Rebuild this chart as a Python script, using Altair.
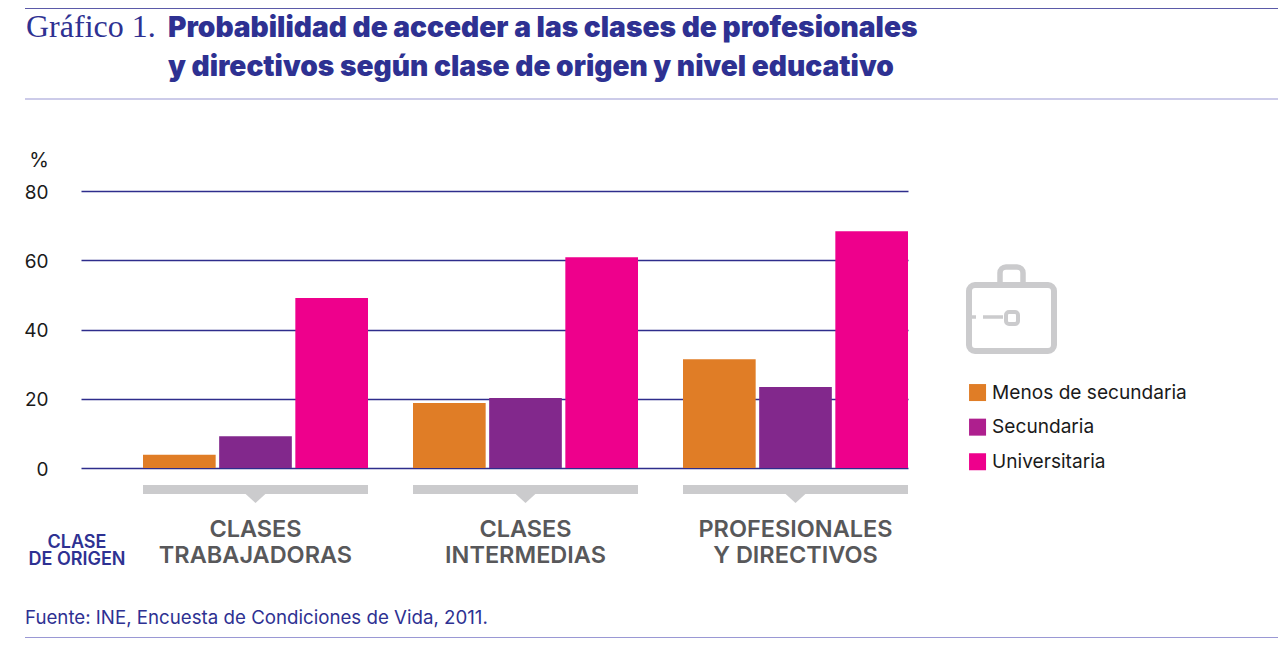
import altair as alt
import pandas as pd

groups = ["CLASES\nTRABAJADORAS", "CLASES\nINTERMEDIAS", "PROFESIONALES\nY DIRECTIVOS"]
levels = ["Menos de secundaria", "Secundaria", "Universitaria"]
menos = [3.8, 18.8, 31.4]
secundaria = [9.2, 20.2, 23.4]
universitaria = [49.1, 60.9, 68.4]
y_ticks = [0, 20, 40, 60, 80]
bar_colors = ["#e07d26", "#82288c", "#ee008c"]
legend_colors = ["#e07d26", "#ae1f8e", "#ee008c"]

BLUE = "#2e3192"
LINE = "#9a98d4"
GRID = "#2e2d8c"
GREY = "#cbcbcd"
SANS = "Inter"

LEFT, TOP, W, H = 81, 191, 827, 277
TOTAL_W = 1270
TOTAL_H = 632


def px(x):
    return x - LEFT


def py(y):
    return y - TOP


rows = []
for g, a, b, c in zip(groups, menos, secundaria, universitaria):
    for lev, v in zip(levels, (a, b, c)):
        rows.append({"group": g, "level": lev, "value": v})
data = pd.DataFrame(rows)
gdata = pd.DataFrame({"group": groups})

x_scale = alt.Scale(domain=groups, range=[0, 827], paddingInner=1 / 6, paddingOuter=62 / 540, align=1)
x_enc = alt.X("group:N", scale=x_scale, axis=None, sort=groups)

bars = (
    alt.Chart(data)
    .mark_bar(clip=False)
    .encode(
        x=x_enc,
        xOffset=alt.XOffset("level:N", sort=levels, scale=alt.Scale(domain=levels, paddingInner=0.046, paddingOuter=0)),
        y=alt.Y(
            "value:Q",
            scale=alt.Scale(domain=[0, 80], nice=False),
            axis=alt.Axis(
                values=y_ticks,
                title=None,
                domain=False,
                ticks=False,
                grid=True,
                gridColor=GRID,
                gridWidth=1.3,
                labelFont=SANS,
                labelFontSize=19,
                labelColor="#1a1a1a",
                labelPadding=33,
                labelOffset=1,
            ),
        ),
        color=alt.Color("level:N", scale=alt.Scale(domain=levels, range=bar_colors), legend=None),
    )
)

legend_layer = (
    alt.Chart(data)
    .mark_square(size=0, opacity=0)
    .encode(
        x=x_enc,
        fill=alt.Fill(
            "level:N",
            scale=alt.Scale(domain=levels, range=legend_colors),
            legend=alt.Legend(
                title=None,
                orient="none",
                legendX=px(968),
                legendY=py(383),
                symbolType="square",
                symbolSize=289,
                symbolOpacity=1,
                symbolStrokeWidth=0,
                labelFont=SANS,
                labelFontSize=19.1,
                labelColor="#1a1a1a",
                labelOffset=5,
                labelLimit=300,
                rowPadding=14.6,
            ),
        ),
    )
)

bracket = (
    alt.Chart(gdata)
    .mark_rect(color=GREY, clip=False)
    .encode(x=x_enc, y=alt.value(py(485)), y2=alt.value(py(494)))
)
notch = (
    alt.Chart(gdata)
    .mark_point(shape="M-1,0L1,0L0,0.9Z", filled=True, color=GREY, opacity=1, size=484, strokeWidth=0)
    .encode(x=x_enc, y=alt.value(py(493)))
)
group_labels = (
    alt.Chart(gdata)
    .transform_calculate(label="split(datum.group, '\\n')")
    .mark_text(font=SANS, fontSize=23.5, fontWeight=600, color="#58585a", baseline="alphabetic", lineHeight=26, align="center")
    .encode(x=x_enc, y=alt.value(py(537)), text="label:N")
)


def txt(s, x, y, size, color=BLUE, font=SANS, weight=400, align="left"):
    return alt.Chart(gdata.head(1)).mark_text(
        font=font, fontSize=size, fontWeight=weight, color=color, baseline="alphabetic", align=align
    ).encode(x=alt.value(px(x)), y=alt.value(py(y)), text=alt.value(s))


def hline(x1, x2, y, color, w):
    return alt.Chart(gdata.head(1)).mark_rule(color=color, strokeWidth=w).encode(
        x=alt.value(px(x1)), x2=alt.value(px(x2)), y=alt.value(py(y))
    )


def box(x1, x2, y1, y2, w, r, fill):
    return alt.Chart(gdata.head(1)).mark_rect(
        fill=fill, stroke=GREY, strokeWidth=w, cornerRadius=r
    ).encode(
        x=alt.value(px(x1)), x2=alt.value(px(x2)), y=alt.value(py(y1)), y2=alt.value(py(y2))
    )


layers = [
    hline(25, 1286, 8.5, "#5b5aa8", 1.2),
    hline(25, 1286, 99, LINE, 1.2),
    hline(25, 1286, 637.5, LINE, 1.2),
    txt("Gráfico 1.", 26, 37, 32, font="Liberation Serif"),
    txt("Probabilidad de acceder a las clases de profesionales", 168, 37, 28.15, weight=900),
    txt("y directivos según clase de origen y nivel educativo", 168, 76, 28.15, weight=900),
    txt("%", 39, 167, 20, color="#1a1a1a", align="center"),
    bars,
    legend_layer,
    bracket,
    notch,
    group_labels,
    txt("CLASE", 77, 548, 18, weight=600, align="center"),
    txt("DE ORIGEN", 77, 565, 18, weight=600, align="center"),
    txt("Fuente: INE, Encuesta de Condiciones de Vida, 2011.", 25, 624, 18.7),
    box(1000, 1023, 267, 290, 5.5, 6, "#ffffff"),
    box(969, 1054, 285, 351, 6, 6, "#ffffff"),
    hline(966, 976, 317, GREY, 3.5),
    hline(983, 1003, 317, GREY, 3.5),
    box(1006, 1018, 312, 324, 4, 3, "#ffffff"),
]

chart = (
    alt.layer(*layers)
    .properties(
        width=W,
        height=H,
        padding={"left": LEFT - 8, "top": TOP - 8, "right": TOTAL_W - (LEFT - 8) - W, "bottom": TOTAL_H - (TOP - 8) - H},
        autosize=alt.AutoSizeParams(type="none"),
    )
    .configure_view(stroke=None)
    .resolve_scale(color="independent")
)

chart.save("out.html", embed_options={"renderer": "svg", "actions": False})
